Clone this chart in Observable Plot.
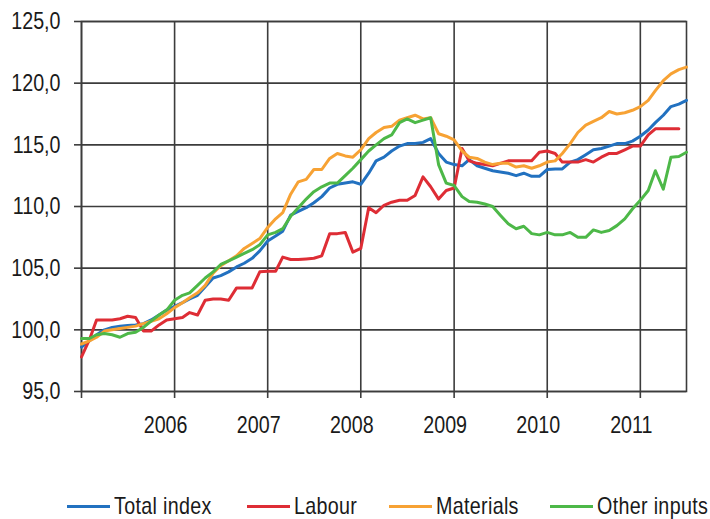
<!DOCTYPE html>
<html>
<head>
<meta charset="utf-8">
<script src="https://cdn.jsdelivr.net/npm/d3@7"></script>
<script src="https://cdn.jsdelivr.net/npm/@observablehq/plot@0.6"></script>
<style>
  html, body { margin: 0; padding: 0; background: #fff; }
  #chart { position: relative; width: 710px; height: 519px; font-family: "Liberation Sans", Arial, sans-serif; }
  #legend { position: absolute; left: 0; top: 492px; width: 710px; height: 28px; }
  .item { position: absolute; top: 0; display: flex; align-items: center; height: 28px; font-size: 24px; color: #1a1a1a; letter-spacing: 0.4px; white-space: nowrap; }
  .sw { width: 43px; height: 3px; margin-right: 4px; flex: none; }
  .lbl { display: inline-block; transform: scaleX(0.82); transform-origin: 0 50%; }
</style>
</head>
<body>
<div id="chart"><div id="legend"></div></div>
<script>
// Series names and colours
const seriesNames = ["Total index", "Labour", "Materials", "Other inputs"];
const seriesColors = ["#2271c0", "#de2d35", "#f7a234", "#4db848"];

// Monthly index values, January 2005 onwards (2005 = 100)
const startMonth = "2005-01-01";
const totalIndex = [
  98.6, 99.1, 99.6, 100.0, 100.2, 100.3, 100.35, 100.4, 100.5, 100.8, 101.2, 101.6,
  101.9, 102.2, 102.5, 102.8, 103.5, 104.2, 104.4, 104.7, 105.1, 105.4, 105.8, 106.4,
  107.2, 107.6, 108.0, 109.3, 109.6, 109.9, 110.3, 110.8, 111.5, 111.8, 111.9, 112.0,
  111.8, 112.7, 113.7, 114.0, 114.5, 114.9, 115.1, 115.1, 115.2, 115.5, 114.3, 113.6,
  113.4, 113.3, 113.8, 113.3, 113.1, 112.9, 112.8, 112.7, 112.5, 112.7, 112.45, 112.45,
  113.0, 113.05, 113.05, 113.6, 113.8, 114.2, 114.6, 114.7, 114.9, 115.1, 115.1, 115.3,
  115.7, 116.2, 116.8, 117.4, 118.1, 118.3, 118.6
];
const labour = [
  97.8, 99.2, 100.8, 100.8, 100.8, 100.9, 101.1, 101.0, 99.9, 99.9, 100.4, 100.8,
  100.9, 101.0, 101.4, 101.2, 102.4, 102.5, 102.5, 102.4, 103.4, 103.4, 103.4, 104.7,
  104.75, 104.75, 105.9, 105.7, 105.7, 105.75, 105.8, 106.0, 107.8, 107.8, 107.9, 106.3,
  106.6, 109.9, 109.5, 110.1, 110.35, 110.5, 110.5, 110.9, 112.4, 111.6, 110.6, 111.3,
  111.5, 114.7, 113.7, 113.5, 113.4, 113.3, 113.5, 113.7, 113.7, 113.7, 113.7, 114.4,
  114.5, 114.3, 113.6, 113.6, 113.6, 113.8, 113.6, 114.0, 114.3, 114.3, 114.6, 114.9,
  114.9, 115.8, 116.3, 116.3, 116.3, 116.3
];
const materials = [
  98.85, 99.1, 99.4, 99.9, 100.0, 100.1, 100.2, 100.3, 100.5, 100.7, 100.9, 101.3,
  101.8, 102.2, 102.6, 103.0, 103.6, 104.6, 105.2, 105.6, 106.0, 106.6, 107.0, 107.4,
  108.3, 109.0, 109.5, 111.0, 112.0, 112.2, 113.0, 113.0, 113.9, 114.3, 114.1, 114.0,
  114.6, 115.5, 116.0, 116.4, 116.5, 117.0, 117.2, 117.4, 117.1, 117.2, 115.9, 115.7,
  115.4, 114.5, 114.0, 113.9, 113.6, 113.4, 113.5, 113.5, 113.2, 113.3, 113.1, 113.3,
  113.6, 113.7, 114.3, 115.1, 116.0, 116.6, 116.9, 117.2, 117.7, 117.5, 117.6, 117.8,
  118.1, 118.6, 119.4, 120.2, 120.75, 121.1, 121.3
];
const otherInputs = [
  99.3, 99.3, 99.6, 99.7, 99.6, 99.4, 99.7, 99.8, 100.2, 100.7, 101.2, 101.6,
  102.4, 102.8, 103.0, 103.6, 104.2, 104.7, 105.3, 105.6, 105.9, 106.2, 106.5, 106.9,
  107.7, 107.9, 108.2, 109.2, 109.9, 110.6, 111.2, 111.6, 111.9, 111.9, 112.5, 113.1,
  113.8, 114.5, 115.0, 115.5, 115.8, 116.8, 117.1, 116.8, 117.0, 117.2, 113.4, 111.9,
  111.7, 110.8, 110.4, 110.35, 110.2, 110.0, 109.3, 108.6, 108.2, 108.4, 107.8, 107.7,
  107.9, 107.7, 107.7, 107.9, 107.5, 107.5, 108.1, 107.9, 108.05, 108.45, 109.0, 109.8,
  110.5, 111.3, 112.9, 111.4, 114.0, 114.05, 114.4
];

// Axis ticks
const yTicks = [95, 100, 105, 110, 115, 120, 125];
const xTickYears = [2005, 2006, 2007, 2008, 2009, 2010, 2011];
const xLabelYears = [2006, 2007, 2008, 2009, 2010, 2011];

const allSeries = [totalIndex, labour, materials, otherInputs];
const start = new Date(startMonth);
const rows = [];
allSeries.forEach((vals, si) => {
  vals.forEach((v, i) => rows.push({ series: seriesNames[si], date: d3.utcMonth.offset(start, i), value: v }));
});
const yearDate = y => new Date(Date.UTC(y, 0, 1));
const fmt = d => d.toFixed(1).replace(".", ",");
const gridColor = "#3c3c3c";

const chart = Plot.plot({
  width: 710,
  height: 440,
  marginLeft: 81,
  marginRight: 24,
  marginTop: 21,
  marginBottom: 49,
  style: { fontFamily: '"Liberation Sans", Arial, sans-serif', fontSize: "24px", color: "#1a1a1a", background: "#fff" },
  x: { type: "utc", domain: [start, d3.utcMonth.offset(start, 78)] },
  y: { domain: [95, 125] },
  color: { domain: seriesNames, range: seriesColors },
  marks: [
    Plot.gridY(yTicks, { stroke: gridColor, strokeOpacity: 1, strokeWidth: 1.6 }),
    Plot.gridX(xTickYears.map(yearDate), { stroke: gridColor, strokeOpacity: 1, strokeWidth: 1.6 }),
    Plot.frame({ stroke: gridColor, strokeWidth: 1.6 }),
    Plot.axisY(yTicks, { tickSize: 7, tickPadding: 14, tickFormat: fmt, fontSize: 24, stroke: gridColor, strokeWidth: 1.6, label: null }),
    Plot.axisX(xTickYears.map(yearDate), { tickSize: 7, tickFormat: () => "", stroke: gridColor, strokeWidth: 1.6, label: null }),
    Plot.axisX(xLabelYears.map(yearDate), { tickSize: 0, tickPadding: 24, tickFormat: d => String(d.getUTCFullYear()), dx: -9, fontSize: 24, label: null }),
    Plot.line(rows, { x: "date", y: "value", z: "series", stroke: "series", strokeWidth: 3, strokeLinejoin: "round", curve: "linear" })
  ]
});

// Condense tick label glyphs horizontally (narrow face look), keeping anchors
chart.querySelectorAll("text").forEach(el => {
  const t = el.getAttribute("transform");
  if (t) {
    el.setAttribute("transform", t + " scale(0.82,1)");
  } else {
    const x = el.getAttribute("x") || 0, y = el.getAttribute("y") || 0;
    el.removeAttribute("x"); el.removeAttribute("y");
    el.setAttribute("transform", `translate(${x},${y}) scale(0.82,1)`);
  }
});
document.getElementById("chart").insertBefore(chart, document.getElementById("legend"));

const legendLeft = [67, 247, 389, 550];
const legend = document.getElementById("legend");
seriesNames.forEach((name, i) => {
  const item = document.createElement("div");
  item.className = "item";
  item.style.left = legendLeft[i] + "px";
  const sw = document.createElement("span");
  sw.className = "sw";
  sw.style.background = seriesColors[i];
  const label = document.createElement("span");
  label.className = "lbl";
  label.textContent = name;
  item.appendChild(sw);
  item.appendChild(label);
  legend.appendChild(item);
});
</script>
</body>
</html>
